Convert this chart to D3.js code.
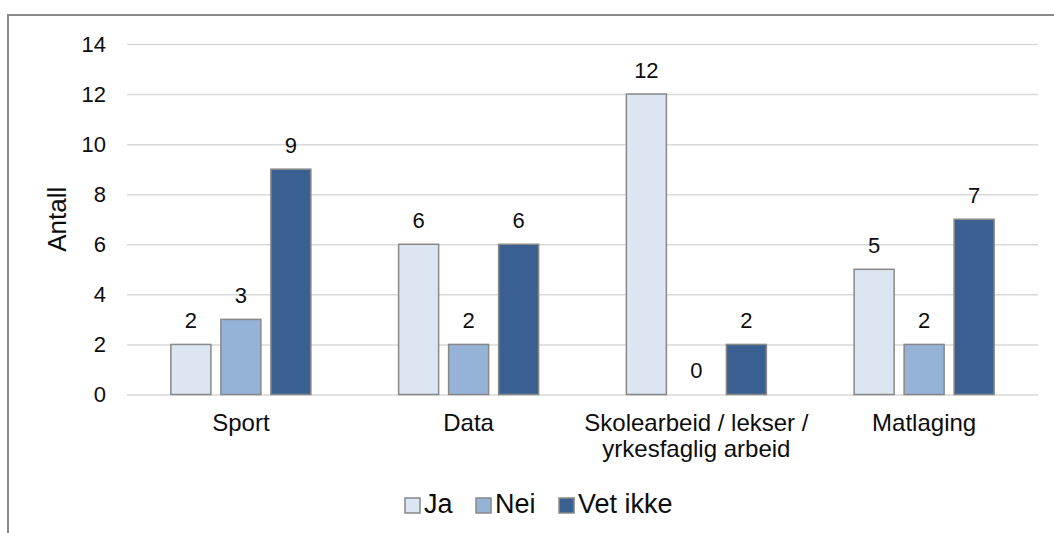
<!DOCTYPE html>
<html>
<head>
<meta charset="utf-8">
<script src="https://cdn.jsdelivr.net/npm/d3@7"></script>
<style>
  html, body { margin: 0; padding: 0; background: #fff; }
  svg { display: block; }
  text { font-family: "Liberation Sans", Arial, sans-serif; fill: #0d0d0d; }
</style>
</head>
<body>
<svg id="chart" width="1054" height="533"></svg>
<script>
// ---- data ----
const categories = ["Sport", "Data", "Skolearbeid / lekser / yrkesfaglig arbeid", "Matlaging"];
const categoryLines = [["Sport"], ["Data"], ["Skolearbeid / lekser /", "yrkesfaglig arbeid"], ["Matlaging"]];
const seriesNames = ["Ja", "Nei", "Vet ikke"];
const jaValues = [2, 6, 12, 5];
const neiValues = [3, 2, 0, 2];
const vetIkkeValues = [9, 6, 2, 7];
const yTicks = [0, 2, 4, 6, 8, 10, 12, 14];
const yTitle = "Antall";
const seriesColors = ["#dce6f2", "#95b3d7", "#3a6091"];

const seriesValues = [jaValues, neiValues, vetIkkeValues];

// ---- layout ----
const svg = d3.select("#chart");
const plot = { left: 127, right: 1038, top: 44, bottom: 394.5 };

// outer frame
svg.append("rect")
  .attr("x", 8).attr("y", 15)
  .attr("width", 1100).attr("height", 600)
  .attr("fill", "none")
  .attr("stroke", "#8a8a8a")
  .attr("stroke-width", 2);

const x = d3.scaleBand().domain(categories).range([plot.left, plot.right]).padding(0);
const xInner = d3.scaleBand().domain(seriesNames).range([0, 140]).paddingInner(0.2).paddingOuter(0);
const y = d3.scaleLinear().domain([0, 14]).range([plot.bottom, plot.top]);

// y axis with gridlines
const yAxis = d3.axisLeft(y)
  .tickValues(yTicks)
  .tickSizeInner(-(plot.right - plot.left))
  .tickSizeOuter(0)
  .tickPadding(21)
  .tickFormat(d3.format("d"));

const gy = svg.append("g")
  .attr("transform", `translate(${plot.left},0)`)
  .call(yAxis);
gy.select(".domain").remove();
gy.selectAll(".tick line").attr("stroke", "#d9d9d9").attr("stroke-width", 1.5);
gy.selectAll(".tick text")
  .attr("font-size", 22)
  .attr("fill", "#0d0d0d")
  .attr("font-family", "\"Liberation Sans\", Arial, sans-serif");

// y title
svg.append("text")
  .attr("transform", `translate(57,${(plot.top + plot.bottom) / 2}) rotate(-90)`)
  .attr("text-anchor", "middle")
  .attr("dominant-baseline", "central")
  .attr("font-size", 26)
  .text(yTitle);

// bars
const groupOffset = (x.bandwidth() - 140) / 2;
seriesNames.forEach((s, si) => {
  const g = svg.append("g");
  const vals = seriesValues[si];
  g.selectAll("rect")
    .data(categories.map((c, ci) => ({ c, v: vals[ci] })))
    .join("rect")
    .attr("x", d => x(d.c) + groupOffset + xInner(s))
    .attr("y", d => y(d.v))
    .attr("width", xInner.bandwidth())
    .attr("height", d => y(0) - y(d.v))
    .attr("fill", seriesColors[si])
    .attr("stroke", d => d.v > 0 ? "#888888" : "none")
    .attr("stroke-width", 1.5);
  g.selectAll("text")
    .data(categories.map((c, ci) => ({ c, v: vals[ci] })))
    .join("text")
    .attr("x", d => x(d.c) + groupOffset + xInner(s) + xInner.bandwidth() / 2)
    .attr("y", d => y(d.v) - 16.5)
    .attr("text-anchor", "middle")
    .attr("font-size", 22)
    .text(d => d.v);
});

// category labels
categories.forEach((c, ci) => {
  const t = svg.append("text")
    .attr("text-anchor", "middle")
    .attr("font-size", 24);
  categoryLines[ci].forEach((line, li) => {
    t.append("tspan")
      .attr("x", x(c) + x.bandwidth() / 2)
      .attr("y", 431 + li * 26)
      .text(line);
  });
});

// legend
const legend = svg.append("g");
let lx = 405;
const legendBaseline = 513;
seriesNames.forEach((s, si) => {
  legend.append("rect")
    .attr("x", lx).attr("y", legendBaseline - 15)
    .attr("width", 15).attr("height", 15)
    .attr("fill", seriesColors[si])
    .attr("stroke", "#888888")
    .attr("stroke-width", 1.5);
  const t = legend.append("text")
    .attr("x", lx + 19)
    .attr("y", legendBaseline)
    .attr("font-size", 27)
    .text(s);
  lx += 19 + t.node().getComputedTextLength() + 23.5;
});
</script>
</body>
</html>
